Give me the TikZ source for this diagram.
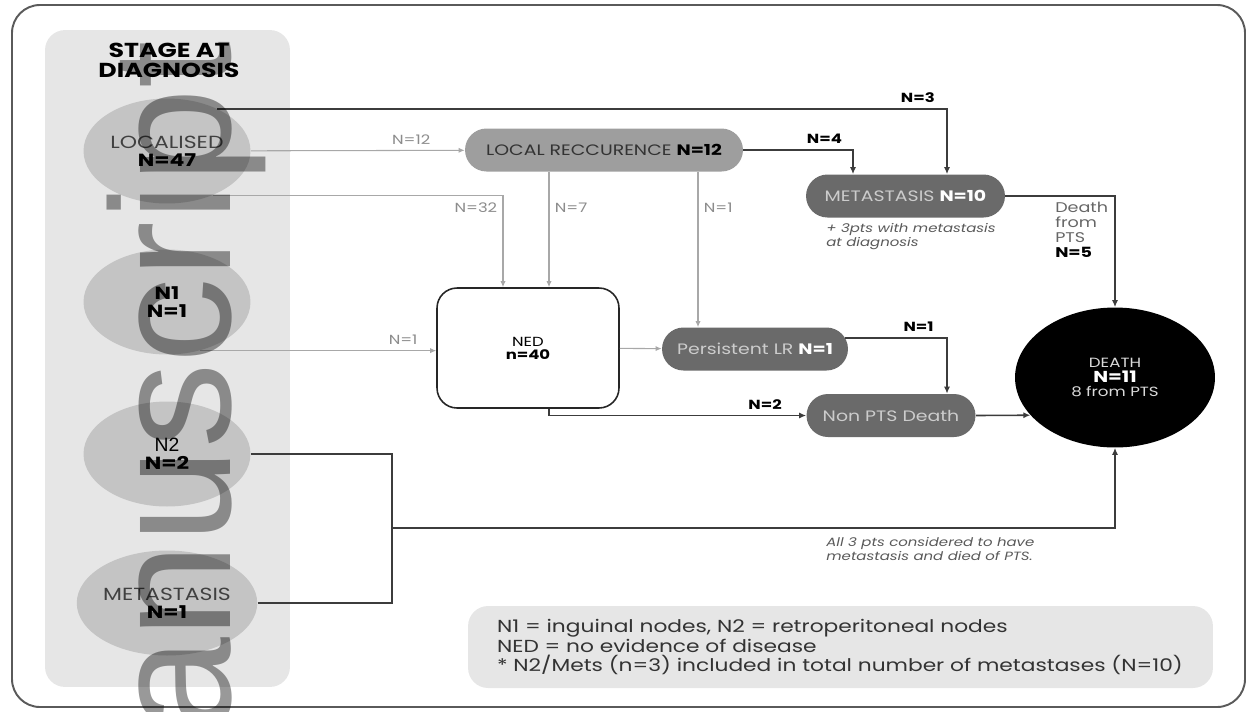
\documentclass[tikz,border=0pt]{standalone}
\usepackage{fontspec}
\setmainfont{Poppins}[FakeStretch=1.25]
\newfontfamily\wmfont{Liberation Sans}
\newfontfamily\arialfont{Liberation Sans}
\usetikzlibrary{arrows.meta,shapes.geometric,positioning,calc}

\definecolor{colgrey}{HTML}{E6E6E6}
\definecolor{stagegrey}{HTML}{C4C4C4}
\definecolor{lrgrey}{HTML}{9E9E9E}
\definecolor{darkgrey}{HTML}{6A6A6A}
\definecolor{linedark}{HTML}{3C3C3C}
\definecolor{linelite}{HTML}{A8A8A8}
\definecolor{framegrey}{HTML}{5A5A5A}

\begin{document}
\begin{tikzpicture}[x=0.02cm, y=-0.02cm,
    column/.style={fill=colgrey, rounded corners=0.4cm, minimum width=4.9cm, minimum height=13.14cm},
    title/.style={align=center, font=\bfseries\fontsize{11.5}{11.4}\selectfont},
    stage/.style={ellipse, fill=stagegrey, minimum width=3.34cm, minimum height=2.1cm, inner sep=0pt, align=center, text=black!75, font=\fontsize{10}{10.2}\selectfont},
    pill/.style={fill=lrgrey, rounded corners=0.43cm, minimum height=0.86cm, inner sep=0pt, text=black!80, font=\fontsize{8.6}{10}\selectfont},
    dpill/.style={pill, fill=darkgrey, text=black!20},
    nedbox/.style={draw=black!85, line width=0.9pt, fill=white, rounded corners=0.4cm, minimum width=3.64cm, minimum height=2.4cm, align=center, font=\fontsize{7.5}{7.4}\selectfont},
    deathnode/.style={ellipse, fill=black, minimum width=4cm, minimum height=2.8cm, inner sep=0pt, align=center, text=black!15, font=\fontsize{7.6}{8.5}\selectfont},
    legendbox/.style={fill=colgrey, rounded corners=0.4cm, minimum width=14.9cm, minimum height=1.64cm, text width=13.74cm, inner sep=0pt, align=left, text=black!80, font=\fontsize{9.9}{11.1}\selectfont},
    note/.style={align=left, inner sep=0pt, text=black!65, font=\itshape\fontsize{6.8}{6.9}\selectfont},
    frame/.style={draw=framegrey, line width=1.1pt, rounded corners=0.56cm},
    arr/.style={-{Latex[length=4pt,width=3.5pt]}, line width=0.9pt, draw=linedark},
    link/.style={line width=0.9pt, draw=linedark},
    lite/.style={-{Latex[length=3.5pt,width=3pt]}, line width=0.6pt, draw=linelite},
    lbl/.style={font=\fontsize{7.5}{8}\selectfont, text=black!45, inner sep=3pt},
    lblb/.style={font=\bfseries\fontsize{7.5}{8}\selectfont, text=black, inner sep=3pt},
    side/.style={align=left, inner sep=3pt, text=black!60, font=\fontsize{8}{8.5}\selectfont}
]
\useasboundingbox (0,0) rectangle (1247,711);
\draw[frame] (12,5) rectangle (1245,707);

% stage at diagnosis
\node[column] (stagecol) at (167.5,358.5) {};
\node[title] (title) at (169,60) {STAGE AT\\DIAGNOSIS};
\node[stage] (loc) at (167,151) {LOCALISED\\\textbf{\color{black}N=47}};
\node[stage] (nodeN1) at (167,302) {\textbf{\color{black}N1}\\\textbf{\color{black}N=1}};
\node[stage] (nodeN2) at (167,454) {{\arialfont\fontsize{11}{10}\selectfont\color{black}N2}\\\textbf{\color{black}N=2}};
\node[stage] (mets) at (167,603) {METASTASIS\\\textbf{\color{black}N=1}};

% outcomes
\node[pill, minimum width=5.56cm] (lr) at (604,150) {LOCAL RECCURENCE \textbf{\color{black}N=12}};
\node[dpill, minimum width=3.98cm] (meta) at (905.5,196) {METASTASIS \textbf{\color{white}N=10}};
\node[note, anchor=north west] (metanote) at (826,223) {+ 3pts with metastasis\\at diagnosis};
\node[nedbox] (ned) at (528,348) {NED\\\textbf{n=40}};
\node[dpill, minimum width=3.72cm] (pers) at (755,349) {Persistent LR \textbf{\color{white}N=1}};
\node[dpill, minimum width=3.38cm] (nonpts) at (891,415.5) {Non PTS Death};
\node[deathnode] (death) at (1115,377.5) {DEATH\\\textbf{\color{white}\fontsize{9}{8.5}\selectfont N=11}\\8 from PTS};
\node[note, anchor=north west] (allnote) at (826,537) {All 3 pts considered to have\\metastasis and died of PTS.};
\node[legendbox] (legend) at (840.5,647) {N1 = inguinal nodes, N2 = retroperitoneal nodes\\NED = no evidence of disease\\{*} N2/Mets (n=3) included in total number of metastases (N=10)};

% connectors
\draw[arr] (loc.40) -| node[lblb, above, pos=0.48] {N=3} ($(meta.north)+(41.5,0)$);
\draw[lite] (loc) -- node[lbl, above, pos=0.75] {N=12} (lr);
\draw[lite] (loc.-44) -| node[lbl, left, pos=0.57] {N=32} ($(ned.north)-(25,0)$);
\draw[lite] ($(lr.south)-(55,0)$) -- node[lbl, right, pos=0.31] {N=7} ($(ned.north)+(21,0)$);
\draw[lite] ($(lr.south)+(94,0)$) -- node[lbl, right, pos=0.23] {N=1} ($(pers.north)-(57,0)$);
\draw[arr] (lr.east) -| node[lblb, above, pos=0.37] {N=4} ($(meta.north)-(52.5,0)$);
\draw[arr] (meta.east) -| node[side, anchor=north west, pos=0.2] {Death\\from\\PTS\\\textbf{\color{black}N=5}} (death.north);
\draw[lite] (nodeN1.-56) -- node[lbl, above, pos=0.86] {N=1} (nodeN1.-56 -| ned.west);
\draw[lite] (ned) -- (pers);
\draw[arr] ($(pers.east)+(-3,-11)$) -| node[lblb, above, pos=0.36] {N=1} ($(nonpts.north)+(56,0)$);
\draw[arr] ($(ned.south)+(21,0)$) |- node[lblb, above, pos=0.92] {N=2} (nonpts.west);
\draw[arr] (nonpts.east) -- (death.204);
\coordinate (brk) at (392,528);
\draw[link] (nodeN2.east) -| (brk);
\draw[link] (mets.east) -| (brk);
\draw[arr] (brk) -| (death.south);

% watermark
\begin{scope}
\clip (0,0) rectangle (1247,711);
\node[rotate=90, anchor=base, inner sep=0pt, text=black, text opacity=0.4, font=\wmfont\fontsize{97}{97}\selectfont] (wmark) at (230,458) {manuscript};
\end{scope}
\end{tikzpicture}
\end{document}
